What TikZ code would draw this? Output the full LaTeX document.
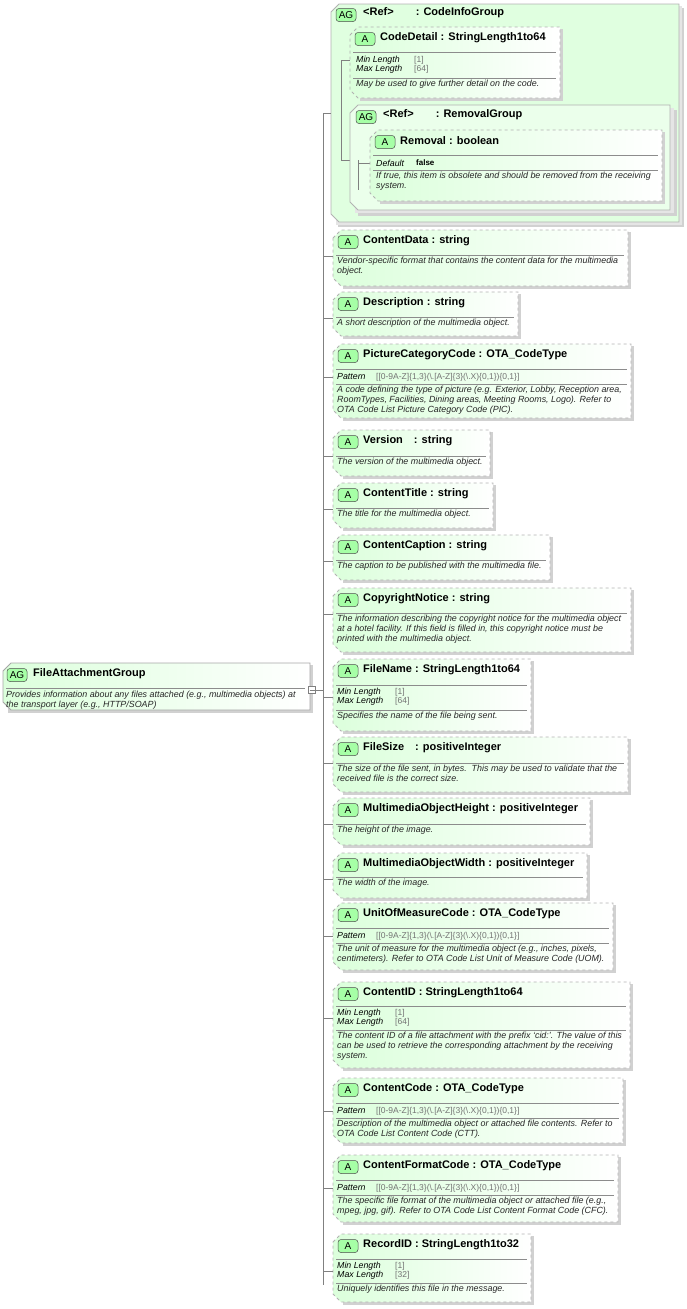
\documentclass[tikz,border=0pt]{standalone}
\usepackage{fontspec}
\setmainfont{Liberation Sans}
\tikzset{
 bx/.style={draw=black!30,dashed,line width=0.8pt,left color=green!14,right color=white},
 sh/.style={fill=black!18,draw=none},
 badge/.style={draw=black!70,fill=green!35,rounded corners=3pt,line width=0.5pt,minimum width=20pt,minimum height=13pt,inner sep=0pt,font=\fontsize{10}{10}\selectfont},
 ttl/.style={anchor=west,inner sep=0pt,font=\fontsize{11}{12}\bfseries\selectfont},
 dsc/.style={anchor=north west,inner sep=0pt,align=left,font=\fontsize{8.9}{10}\itshape\selectfont,text=black!85},
 fac/.style={anchor=west,inner sep=0pt,font=\fontsize{8.8}{9}\itshape\selectfont},
 val/.style={anchor=west,inner sep=0pt,font=\fontsize{8.5}{9}\selectfont,text=black!55},
 sep/.style={black!45,line width=0.5pt},
 ln/.style={black!50,line width=0.5pt}
}
\newcommand\abox[7]{%
 \fill[sh] ({#2+10},{#3+2}) -- ({#4+3},{#3+2}) -- ({#4+3},{#5+3}) -- ({#2+10},{#5+3}) -- cycle;
 \path[bx] (#2,{#3+8}) -- ({#2+8},#3) -- (#4,#3) -- (#4,#5) -- ({#2+8},#5) -- (#2,{#5-8}) -- cycle;
 \node[badge] (#1b) at ({#2+15},{#3+12}) {#7};
 \node[ttl] (#1) at ({#2+30},{#3+11}) {#6};
}
\newcommand\hsep[3]{\draw[sep] ({#1+3},#3) -- ({#2-4},#3);}
\newcommand\simple[7]{%
 \abox{#1}{333}{#2}{#3}{#4}{#5}{A}
 \hsep{333}{#3}{#6}
 \node[dsc] at (337,{#6+2}) {#7};
 \draw[ln] (323,{#2+26}) -- (333,{#2+26});
}
\newcommand\pat[8]{%
 \abox{#1}{333}{#2}{#3}{#4}{#5}{A}
 \hsep{333}{#3}{#6}
 \node[fac] at (337,{#6+8}) {Pattern}; \node[val] at (376,{#6+8}) {[[0-9A-Z]\{1,3\}(\textbackslash.[A-Z]\{3\}(\textbackslash.X)\{0,1\})\{0,1\}]};
 \hsep{333}{#3}{#7}
 \node[dsc] at (337,{#7+2}) {#8};
 \draw[ln] (323,{#6+8}) -- (333,{#6+8});
}
\newcommand\lenb[9]{%
 \abox{#1}{333}{#2}{#3}{#4}{#5}{A}
 \hsep{333}{#3}{#6}
 \node[fac] at (337,{#6+7}) {Min Length}; \node[val] at (395,{#6+7}) {[1]};
 \node[fac] at (337,{#6+16}) {Max Length}; \node[val] at (395,{#6+16}) {[#9]};
 \hsep{333}{#3}{#7}
 \node[dsc] at (337,{#7+2}) {#8};
 \draw[ln] (323,{#6+12}) -- (333,{#6+12});
}
\begin{document}
\begin{tikzpicture}[x=1pt,y=-1pt]
\useasboundingbox (0,0) rectangle (687,1309);
\coordinate (t0) at (323,113); \coordinate (t1) at (323,1285);
\draw[ln] (t0) -- (t1);
% root
\fill[sh] (8,665) -- (313,665) -- (313,713) -- (8,713) -- cycle;
\path[draw=black!35,line width=0.8pt,left color=green!14,right color=white] (3,671) -- (11,663) -- (310,663) -- (310,710) -- (11,710) -- (3,702) -- cycle;
\node[badge] (rootb) at (17,675) {AG};
\node[ttl] (root) at (33,674) {FileAttachmentGroup};
\draw[sep] (6,688) -- (305,688);
\node[dsc] (rootd) at (6,691) {Provides information about any files attached (e.g., multimedia objects) at\\the transport layer (e.g., HTTP/SOAP)};
\node[draw=black!50,fill=white,minimum size=7pt,inner sep=0pt] (coll) at (312,690) {};
\draw[black!50,line width=0.5pt] (309.5,690) -- (314.5,690);
\draw[ln] (coll) -- (323,690);
% CodeInfoGroup
\fill[sh] (338,8) rectangle (684,227);
\fill[black!10] (336,6) rectangle (682,225);
\path[draw=black!30,line width=0.8pt,fill=green!12] (331,12) -- (339,4) -- (679,4) -- (679,222) -- (339,222) -- (331,214) -- cycle;
\node[badge] (cigb) at (346,15) {AG};
\node[ttl] (cig) at (363,13) {<Ref>\hspace{22pt}: CodeInfoGroup};
\draw[ln] (t0) -- (331,113);
\draw[ln] (341,60) -- (341,160); \draw[ln] (341,60) -- (350,60); \draw[ln] (341,160) -- (350,160);
\abox{cd}{350}{27}{560}{98}{CodeDetail : StringLength1to64}{A}
\hsep{350}{560}{52}
\node[fac] at (356,60) {Min Length}; \node[val] at (414,60) {[1]};
\node[fac] at (356,69) {Max Length}; \node[val] at (414,69) {[64]};
\hsep{350}{560}{78}
\node[dsc] at (356,80) {May be used to give further detail on the code.};
% RemovalGroup
\fill[sh] (358,110) rectangle (677,216);
\fill[black!10] (355,108) rectangle (674,213);
\path[draw=black!30,line width=0.8pt,fill=green!8] (350,113) -- (358,105) -- (670,105) -- (670,210) -- (358,210) -- (350,202) -- cycle;
\node[badge] (rgb) at (366,117) {AG};
\node[ttl] (rg) at (383,115) {<Ref>\hspace{22pt}: RemovalGroup};
\draw[ln] (358,160) -- (358,190); \draw[ln] (358,163) -- (370,163);
\abox{rm}{370}{130}{662}{201}{Removal : boolean}{A}
\hsep{370}{662}{155}
\node[fac] at (376,163) {Default}; \node[val,text=black,font=\fontsize{8}{9}\bfseries\selectfont] at (416,163) {false};
\hsep{370}{662}{170}
\node[dsc] at (376,172) {If true, this item is obsolete and should be removed from the receiving\\system.};
\simple{cdata}{230}{628}{286}{ContentData : string}{255}{Vendor-specific format that contains the content data for the multimedia\\object.}
\simple{desc}{292}{518}{336}{Description : string}{317}{A short description of the multimedia object.}
\pat{pcc}{344}{631}{418}{PictureCategoryCode : OTA\_CodeType}{369}{384}{A code defining the type of picture (e.g. Exterior, Lobby, Reception area,\\RoomTypes, Facilities, Dining areas, Meeting Rooms, Logo). Refer to\\OTA Code List Picture Category Code (PIC).}
\simple{ver}{430}{490}{476}{Version\hspace{8pt} : string}{456}{The version of the multimedia object.}
\simple{ctitle}{483}{493}{528}{ContentTitle : string}{508}{The title for the multimedia object.}
\simple{ccap}{535}{550}{580}{ContentCaption : string}{560}{The caption to be published with the multimedia file.}
\simple{copy}{588}{631}{652}{CopyrightNotice : string}{613}{The information describing the copyright notice for the multimedia object\\at a hotel facility. If this field is filled in, this copyright notice must be\\printed with the multimedia object.}
\lenb{fname}{659}{531}{731}{FileName : StringLength1to64}{685}{710}{Specifies the name of the file being sent.}{64}
\simple{fsize}{737}{628}{792}{FileSize\hspace{8pt} : positiveInteger}{763}{The size of the file sent, in bytes.\ \ This may be used to validate that the\\received file is the correct size.}
\simple{moh}{798}{590}{845}{MultimediaObjectHeight : positiveInteger}{824}{The height of the image.}
\simple{mow}{853}{587}{898}{MultimediaObjectWidth : positiveInteger}{877}{The width of the image.}
\pat{uom}{903}{613}{970}{UnitOfMeasureCode : OTA\_CodeType}{928}{943}{The unit of measure for the multimedia object (e.g., inches, pixels,\\centimeters). Refer to OTA Code List Unit of Measure Code (UOM).}
\lenb{cid}{982}{630}{1068}{ContentID : StringLength1to64}{1006}{1030}{The content ID of a file attachment with the prefix `cid:'. The value of this\\can be used to retrieve the corresponding attachment by the receiving\\system.}{64}
\pat{ccode}{1078}{623}{1143}{ContentCode : OTA\_CodeType}{1103}{1118}{Description of the multimedia object or attached file contents. Refer to\\OTA Code List Content Code (CTT).}
\pat{cfc}{1155}{618}{1222}{ContentFormatCode : OTA\_CodeType}{1180}{1195}{The specific file format of the multimedia object or attached file (e.g.,\\mpeg, jpg, gif). Refer to OTA Code List Content Format Code (CFC).}
\lenb{rid}{1234}{531}{1302}{RecordID : StringLength1to32}{1259}{1283}{Uniquely identifies this file in the message.}{32}
\end{tikzpicture}
\end{document}
